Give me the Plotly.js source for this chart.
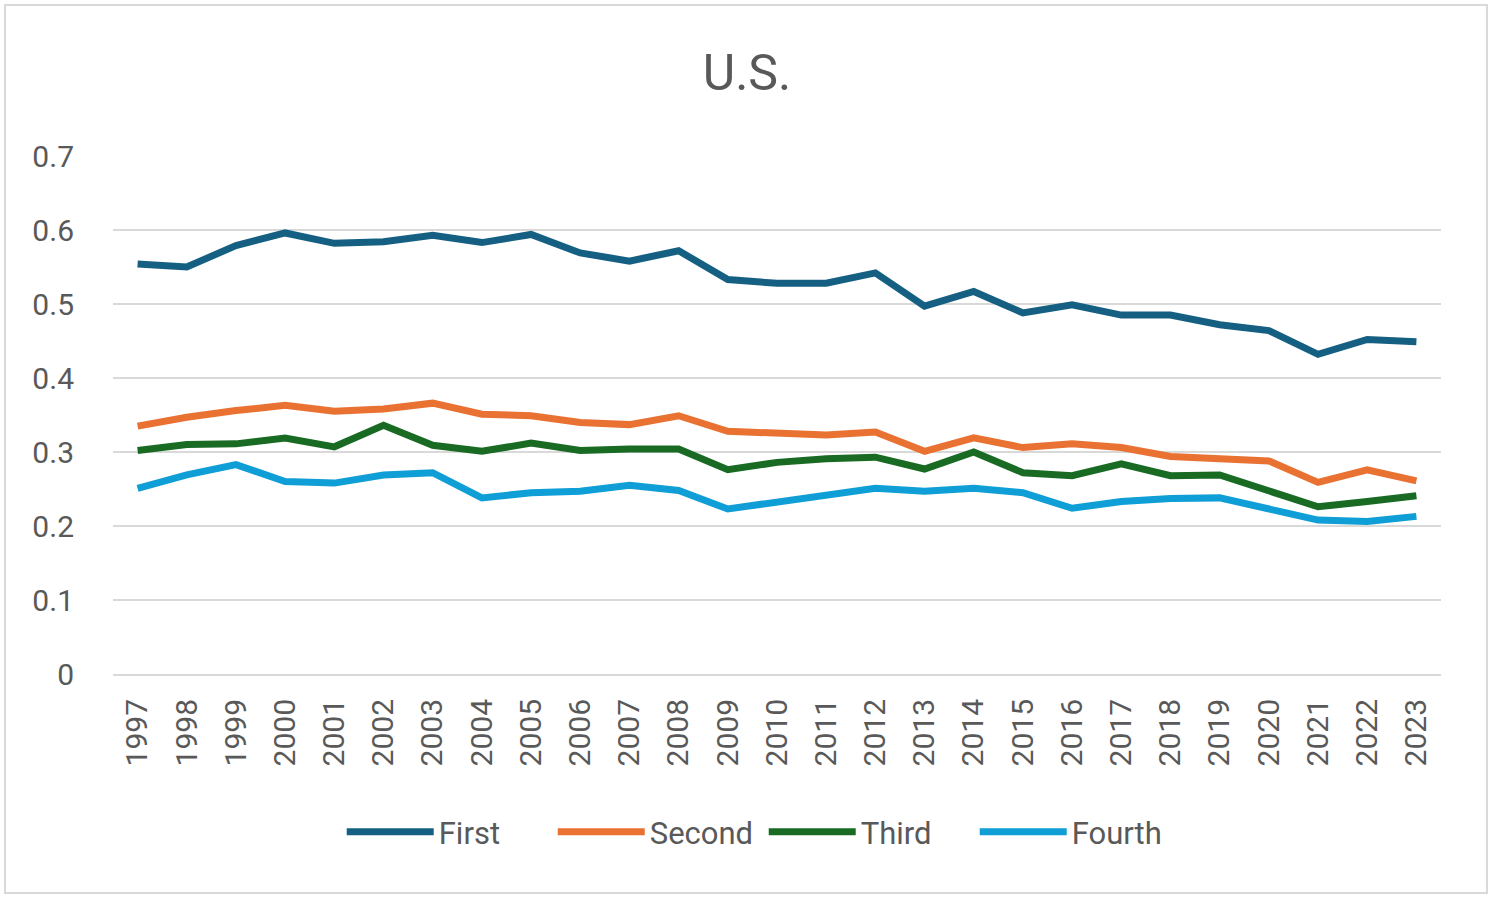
<!DOCTYPE html>
<html>
<head>
<meta charset="utf-8">
<script src="https://cdn.plot.ly/plotly-3.0.1.min.js"></script>
<style>html,body{margin:0;padding:0;background:#fff;}#chart{width:1494px;height:901px;}</style>
</head>
<body>
<div id="chart"></div>
<script>
const years = ["1997","1998","1999","2000","2001","2002","2003","2004","2005","2006","2007","2008","2009","2010","2011","2012","2013","2014","2015","2016","2017","2018","2019","2020","2021","2022","2023"];
const first  = [0.554,0.550,0.579,0.596,0.582,0.584,0.593,0.583,0.594,0.569,0.558,0.572,0.533,0.528,0.528,0.542,0.497,0.517,0.488,0.499,0.485,0.485,0.472,0.464,0.432,0.452,0.449];
const second = [0.335,0.347,0.356,0.363,0.355,0.358,0.366,0.351,0.349,0.340,0.337,0.349,0.328,0.325,0.323,0.327,0.301,0.319,0.306,0.311,0.306,0.294,0.290,0.288,0.259,0.276,0.261];
const third  = [0.302,0.310,0.311,0.319,0.307,0.336,0.309,0.301,0.312,0.302,0.304,0.304,0.276,0.286,0.291,0.293,0.277,0.300,0.272,0.268,0.284,0.268,0.269,0.247,0.226,0.233,0.241];
const fourth = [0.251,0.269,0.283,0.260,0.258,0.269,0.272,0.238,0.245,0.247,0.255,0.248,0.223,0.233,0.242,0.251,0.247,0.251,0.245,0.224,0.233,0.237,0.238,0.222,0.208,0.206,0.213];
const seriesNames = ["First","Second","Third","Fourth"];
const colors = ["#156082","#E97132","#196B24","#0F9ED5"];
const values = [first, second, third, fourth];

const font = "Roboto, 'Liberation Sans', sans-serif";
const textColor = "#595959";

const traces = values.map((v, i) => ({
  x: years, y: v, type: "scatter", mode: "lines", name: seriesNames[i],
  line: {color: colors[i], width: 7, shape: "linear"}
}));

const layout = {
  width: 1494, height: 901,
  margin: {l: 113, r: 53, t: 156, b: 227},
  paper_bgcolor: "#fff", plot_bgcolor: "#fff",
  font: {family: font, color: textColor},
  title: {text: "U.S.", font: {size: 50, color: textColor, family: font}, x: 0.5, xanchor: "center", y: 0.92, yanchor: "middle"},
  xaxis: {
    type: "category", range: [-0.5, 26.5], tickangle: -90,
    tickfont: {size: 30, color: textColor},
    showgrid: false, showline: true, linecolor: "#d9d9d9", linewidth: 2,
    ticks: "outside", ticklen: 11, tickcolor: "rgba(0,0,0,0)", fixedrange: true
  },
  yaxis: {
    range: [0, 0.7], dtick: 0.1, tick0: 0,
    tickfont: {size: 30, color: textColor},
    showgrid: true, gridcolor: "#d9d9d9", gridwidth: 2,
    zeroline: false, showline: false,
    ticks: "outside", ticklen: 32, tickcolor: "rgba(0,0,0,0)", fixedrange: true
  },
  legend: {
    orientation: "h", x: 0.49, xanchor: "center", y: -0.305, yanchor: "middle",
    font: {size: 31, color: textColor}, itemwidth: 87, traceorder: "normal",
    entrywidth: 109, entrywidthmode: "pixels"
  },
  showlegend: true,
  shapes: [{
    type: "rect", xref: "paper", yref: "paper",
    x0: -0.0813, x1: 1.0346, y0: -0.4228, y1: 1.2915,
    line: {color: "#d9d9d9", width: 2}, fillcolor: "rgba(0,0,0,0)", layer: "below"
  }]
};

Plotly.newPlot("chart", traces, layout, {displayModeBar: false, staticPlot: true});
</script>
</body>
</html>
